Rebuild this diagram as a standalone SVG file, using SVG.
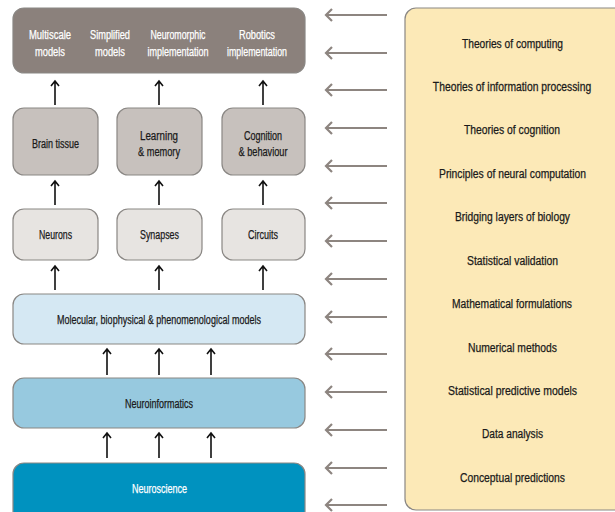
<svg xmlns="http://www.w3.org/2000/svg" width="615" height="512" viewBox="0 0 615 512">
<style>
text{font-family:"Liberation Sans",Arial,sans-serif;font-size:12px;text-anchor:middle;fill:#1a1a1a;stroke:#1a1a1a;stroke-width:0.25}
.w{fill:#ffffff;stroke:#ffffff}
.box{stroke:#8a8784;stroke-width:1.2}
.up{stroke:#111;stroke-width:1.6;fill:none}
.left{stroke:#8d8580;stroke-width:2.2;fill:none}
</style>
<rect width="615" height="512" fill="#ffffff"/>
<g id="connectors">
<g class="up">
<path d="M55 105V81M51 86l4-5 4 5"/>
<path d="M159 105V81M155 86l4-5 4 5"/>
<path d="M263 105V81M259 86l4-5 4 5"/>
<path d="M55 205V181M51 186l4-5 4 5"/>
<path d="M159 205V181M155 186l4-5 4 5"/>
<path d="M263 205V181M259 186l4-5 4 5"/>
<path d="M55 290V266M51 271l4-5 4 5"/>
<path d="M159 290V266M155 271l4-5 4 5"/>
<path d="M263 290V266M259 271l4-5 4 5"/>
<path d="M107 375V349M103 354l4-5 4 5"/>
<path d="M159 375V349M155 354l4-5 4 5"/>
<path d="M211 375V349M207 354l4-5 4 5"/>
<path d="M107 458V433M103 438l4-5 4 5"/>
<path d="M159 458V433M155 438l4-5 4 5"/>
<path d="M211 458V433M207 438l4-5 4 5"/>
</g>
<g class="left">
<path d="M387 15H326M332 9l-6 6 6 6"/>
<path d="M387 53H326M332 47l-6 6 6 6"/>
<path d="M387 90H326M332 84l-6 6 6 6"/>
<path d="M387 128H326M332 122l-6 6 6 6"/>
<path d="M387 166H326M332 160l-6 6 6 6"/>
<path d="M387 203H326M332 197l-6 6 6 6"/>
<path d="M387 241H326M332 235l-6 6 6 6"/>
<path d="M387 279H326M332 273l-6 6 6 6"/>
<path d="M387 317H326M332 311l-6 6 6 6"/>
<path d="M387 354H326M332 348l-6 6 6 6"/>
<path d="M387 392H326M332 386l-6 6 6 6"/>
<path d="M387 430H326M332 424l-6 6 6 6"/>
<path d="M387 468H326M332 462l-6 6 6 6"/>
<path d="M387 505H326M332 499l-6 6 6 6"/>
</g>
</g>
<g id="outputs">
<rect class="box" x="13" y="8" width="292" height="65" rx="11" fill="#8b817c"/>
<text class="w" x="50" y="39" textLength="42" lengthAdjust="spacingAndGlyphs">Multiscale</text><text class="w" x="50" y="56" textLength="30" lengthAdjust="spacingAndGlyphs">models</text>
<text class="w" x="110" y="39" textLength="40" lengthAdjust="spacingAndGlyphs">Simplified</text><text class="w" x="110" y="56" textLength="30" lengthAdjust="spacingAndGlyphs">models</text>
<text class="w" x="178" y="39" textLength="55" lengthAdjust="spacingAndGlyphs">Neuromorphic</text><text class="w" x="178" y="56" textLength="61" lengthAdjust="spacingAndGlyphs">implementation</text>
<text class="w" x="257" y="39" textLength="36" lengthAdjust="spacingAndGlyphs">Robotics</text><text class="w" x="257" y="56" textLength="60" lengthAdjust="spacingAndGlyphs">implementation</text>
</g>
<g id="brain-tissue"><rect class="box" x="13" y="108" width="85" height="67" rx="11" fill="#c7c1bd"/><text x="55.5" y="148" textLength="47" lengthAdjust="spacingAndGlyphs">Brain tissue</text></g>
<g id="learning-memory"><rect class="box" x="117" y="108" width="85" height="67" rx="11" fill="#c7c1bd"/><text x="159" y="140" textLength="38" lengthAdjust="spacingAndGlyphs">Learning</text><text x="159" y="156" textLength="42" lengthAdjust="spacingAndGlyphs">&amp; memory</text></g>
<g id="cognition-behaviour"><rect class="box" x="222" y="108" width="83" height="67" rx="11" fill="#c7c1bd"/><text x="263" y="140" textLength="38" lengthAdjust="spacingAndGlyphs">Cognition</text><text x="263" y="156" textLength="49" lengthAdjust="spacingAndGlyphs">&amp; behaviour</text></g>
<g id="neurons"><rect class="box" x="13" y="209" width="85" height="51" rx="11" fill="#e7e4e1"/><text x="55.5" y="239" textLength="33" lengthAdjust="spacingAndGlyphs">Neurons</text></g>
<g id="synapses"><rect class="box" x="117" y="209" width="85" height="51" rx="11" fill="#e7e4e1"/><text x="159.5" y="239" textLength="39" lengthAdjust="spacingAndGlyphs">Synapses</text></g>
<g id="circuits"><rect class="box" x="222" y="209" width="83" height="51" rx="11" fill="#e7e4e1"/><text x="263" y="239" textLength="30" lengthAdjust="spacingAndGlyphs">Circuits</text></g>
<g id="models"><rect class="box" x="13" y="294" width="292" height="50" rx="11" fill="#d5e8f3"/><text x="159" y="324" textLength="204" lengthAdjust="spacingAndGlyphs">Molecular, biophysical &amp; phenomenological models</text></g>
<g id="neuroinformatics"><rect class="box" x="13" y="378" width="292" height="50" rx="11" fill="#97c9df"/><text x="159" y="408" textLength="68" lengthAdjust="spacingAndGlyphs">Neuroinformatics</text></g>
<g id="neuroscience"><rect class="box" x="13" y="463" width="292" height="60" rx="11" fill="#0092bf"/><text class="w" x="159.5" y="493" textLength="55" lengthAdjust="spacingAndGlyphs">Neuroscience</text></g>
<g id="theory">
<rect x="405" y="8" width="225" height="502" rx="11" fill="#fce9b7" stroke="#8a8784" stroke-width="1.2"/>
<text x="512.5" y="48" textLength="101" lengthAdjust="spacingAndGlyphs">Theories of computing</text>
<text transform="translate(512 91) scale(0.86 1)" x="0" y="0">Theories of information processing</text>
<text x="512" y="134" textLength="96" lengthAdjust="spacingAndGlyphs">Theories of cognition</text>
<text x="512.5" y="178" textLength="147" lengthAdjust="spacingAndGlyphs">Principles of neural computation</text>
<text x="512.5" y="221" textLength="115" lengthAdjust="spacingAndGlyphs">Bridging layers of biology</text>
<text x="512.5" y="265" textLength="91" lengthAdjust="spacingAndGlyphs">Statistical validation</text>
<text x="512" y="308" textLength="120" lengthAdjust="spacingAndGlyphs">Mathematical formulations</text>
<text x="512.5" y="352" textLength="89" lengthAdjust="spacingAndGlyphs">Numerical methods</text>
<text x="512.5" y="395" textLength="129" lengthAdjust="spacingAndGlyphs">Statistical predictive models</text>
<text x="512.5" y="438" textLength="61" lengthAdjust="spacingAndGlyphs">Data analysis</text>
<text x="512.5" y="482" textLength="105" lengthAdjust="spacingAndGlyphs">Conceptual predictions</text>
</g>
</svg>
